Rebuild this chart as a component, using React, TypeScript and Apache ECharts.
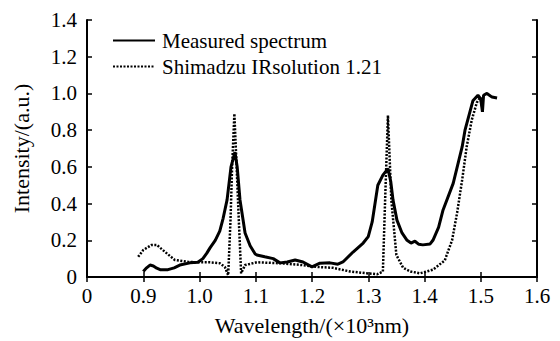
import React, { useEffect, useRef } from "react";
import * as echarts from "echarts";

const measuredX = [0.900, 0.906, 0.912, 0.918, 0.924, 0.930, 0.944, 0.955, 0.965, 0.983, 0.997, 1.006, 1.013, 1.019, 1.028, 1.036, 1.042, 1.049, 1.056, 1.063, 1.067, 1.072, 1.077, 1.081, 1.090, 1.099, 1.102, 1.116, 1.131, 1.143, 1.156, 1.170, 1.184, 1.200, 1.214, 1.232, 1.246, 1.255, 1.273, 1.291, 1.300, 1.307, 1.317, 1.326, 1.335, 1.340, 1.344, 1.351, 1.360, 1.369, 1.376, 1.383, 1.390, 1.397, 1.410, 1.415, 1.425, 1.433, 1.451, 1.467, 1.472, 1.486, 1.495, 1.500, 1.503, 1.505, 1.511, 1.520, 1.529];
const measuredY = [0.03, 0.05, 0.065, 0.06, 0.048, 0.04, 0.04, 0.05, 0.065, 0.077, 0.08, 0.10, 0.13, 0.16, 0.20, 0.25, 0.32, 0.42, 0.60, 0.68, 0.60, 0.42, 0.32, 0.24, 0.17, 0.125, 0.12, 0.11, 0.10, 0.077, 0.082, 0.093, 0.082, 0.055, 0.075, 0.077, 0.07, 0.082, 0.136, 0.185, 0.22, 0.30, 0.50, 0.555, 0.59, 0.52, 0.42, 0.31, 0.24, 0.20, 0.185, 0.195, 0.178, 0.175, 0.18, 0.20, 0.27, 0.365, 0.51, 0.71, 0.80, 0.96, 0.99, 0.97, 0.90, 0.99, 1.0, 0.98, 0.975];

const shimX = [0.891, 0.900, 0.915, 0.924, 0.939, 0.956, 0.980, 1.000, 1.019, 1.036, 1.045, 1.051, 1.055, 1.058, 1.062, 1.066, 1.070, 1.074, 1.081, 1.102, 1.143, 1.179, 1.209, 1.237, 1.268, 1.298, 1.316, 1.326, 1.330, 1.335, 1.341, 1.350, 1.362, 1.375, 1.392, 1.415, 1.436, 1.449, 1.458, 1.467, 1.475, 1.484, 1.493, 1.499, 1.503];
const shimY = [0.11, 0.147, 0.175, 0.175, 0.136, 0.093, 0.082, 0.08, 0.08, 0.075, 0.055, 0.01, 0.3, 0.6, 0.89, 0.6, 0.3, 0.02, 0.065, 0.08, 0.075, 0.066, 0.055, 0.05, 0.03, 0.02, 0.015, 0.03, 0.42, 0.88, 0.42, 0.12, 0.05, 0.03, 0.02, 0.04, 0.09, 0.20, 0.35, 0.53, 0.71, 0.855, 0.95, 0.98, 0.92];

const seriesNames = ["Measured spectrum", "Shimadzu IRsolution 1.21"];
const xTitle = "Wavelength/(×10³nm)";
const yTitle = "Intensity/(a.u.)";

const FONT = "'Liberation Serif', 'Times New Roman', serif";

export default function App() {
  const ref = useRef<HTMLDivElement>(null);
  useEffect(() => {
    if (!ref.current) return;
    const chart = echarts.init(ref.current, undefined, { renderer: "svg" });
    const axisLine = { show: true, lineStyle: { color: "#000", width: 2 } };
    const tick = { show: true, inside: true, length: 5, lineStyle: { color: "#000", width: 1.5 } };
    const lbl = { fontFamily: FONT, fontSize: 21, color: "#000" };
    const xFmt = (v: number) => "{t|" + (Math.abs(v - 0.8) < 1e-6 ? "0" : v.toFixed(1)) + "}";
    const yFmt = (v: number) => "{t|" + (Math.abs(v) < 1e-6 ? "0" : v.toFixed(1)) + "}";
    chart.setOption({
      animation: false,
      backgroundColor: "#fff",
      grid: { left: 87, right: 23, top: 20, bottom: 64 },
      legend: {
        left: 107,
        top: 25,
        orient: "vertical",
        itemWidth: 42,
        itemHeight: 20,
        itemGap: 5,
        itemStyle: { opacity: 0 },
        textStyle: { fontFamily: FONT, fontSize: 21, color: "#000", lineHeight: 20, padding: [0, 0, 0, 2] },
        data: seriesNames,
      },
      xAxis: [
        {
          type: "value", min: 0.8, max: 1.6, interval: 0.1,
          axisLine, axisTick: tick, splitLine: { show: false },
          axisLabel: { formatter: xFmt, ...lbl, margin: 8, rich: { t: lbl } },
          name: xTitle, nameLocation: "middle", nameGap: 37,
          nameTextStyle: { fontFamily: FONT, fontSize: 22, color: "#000" },
        },
        {
          type: "value", min: 0.8, max: 1.6, interval: 0.1, position: "top",
          axisLine, axisTick: tick, splitLine: { show: false }, axisLabel: { show: false },
        },
      ],
      yAxis: [
        {
          type: "value", min: 0, max: 1.4, interval: 0.2,
          axisLine, axisTick: tick, splitLine: { show: false },
          axisLabel: { formatter: yFmt, ...lbl, margin: 10, rich: { t: lbl } },
          name: yTitle, nameLocation: "middle", nameGap: 55,
          nameTextStyle: { fontFamily: FONT, fontSize: 22, color: "#000" },
        },
        {
          type: "value", min: 0, max: 1.4, interval: 0.2, position: "right",
          axisLine, axisTick: tick, splitLine: { show: false }, axisLabel: { show: false },
        },
      ],
      series: [
        {
          name: seriesNames[0], type: "line", symbol: "none", xAxisIndex: 0, yAxisIndex: 0,
          data: measuredX.map((x, i) => [x, measuredY[i]]),
          lineStyle: { color: "#000", width: 3, type: "solid" },
          itemStyle: { color: "#000" },
        },
        {
          name: seriesNames[1], type: "line", symbol: "none", xAxisIndex: 0, yAxisIndex: 0,
          data: shimX.map((x, i) => [x, shimY[i]]),
          lineStyle: { color: "#000", width: 2.5, type: [2, 1.5] },
          itemStyle: { color: "#000" },
        },
      ],
    });
    return () => chart.dispose();
  }, []);
  return <div ref={ref} style={{ width: 560, height: 341, position: "absolute", left: 0, top: 0 }} />;
}
